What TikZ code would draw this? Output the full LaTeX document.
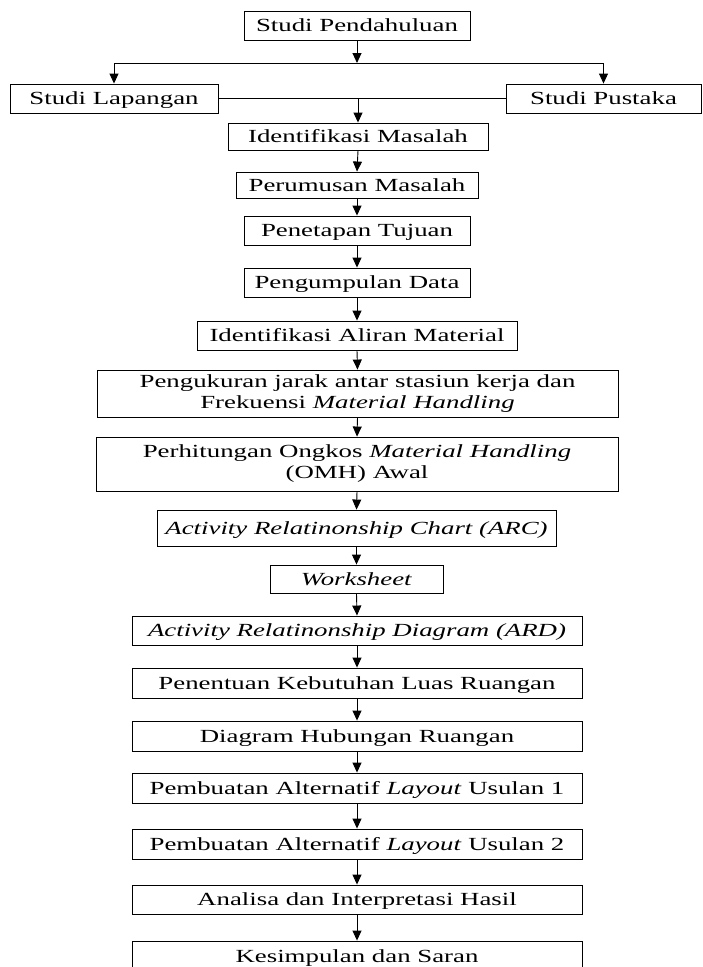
\documentclass[tikz,border=0pt]{standalone}
\usepackage{fontspec}
\setmainfont{Liberation Serif}[FakeStretch=1.45]
\usetikzlibrary{arrows.meta}

\begin{document}
\begin{tikzpicture}[x=1pt,y=-1pt,
  box/.style={draw, line width=0.9pt, inner sep=0pt, align=center,
    font=\fontsize{18.5}{21}\selectfont},
  onebox/.style={box, text height=12.3pt, text depth=0pt},
  flow/.style={line width=0.9pt, -{Triangle[length=10pt,width=9pt]}},
  plain/.style={line width=0.9pt}]
\useasboundingbox (0,0) rectangle (702,967);

% process boxes, centred on the main axis
\node[onebox, minimum width=226, minimum height=29] (pend) at (357,25.5) {Studi Pendahuluan};
\node[onebox, minimum width=208, minimum height=29] (lap)  at (114,98.5) {Studi Lapangan};
\node[onebox, minimum width=195, minimum height=29] (pus)  at (603.5,98.5) {Studi Pustaka};
\node[onebox, minimum width=260, minimum height=27] (idm)  at (358,136.5) {Identifikasi Masalah};
\node[onebox, minimum width=242, minimum height=26] (rum)  at (357,185) {Perumusan Masalah};
\node[onebox, minimum width=226, minimum height=29] (tuj)  at (357,230.5) {Penetapan Tujuan};
\node[onebox, minimum width=226, minimum height=29] (dat)  at (357,282.5) {Pengumpulan Data};
\node[onebox, minimum width=320, minimum height=29] (ali)  at (357,335.5) {Identifikasi Aliran Material};
\node[box, minimum width=521, minimum height=47] (ukur) at (357.5,393.5)
  {Pengukuran jarak antar stasiun kerja dan\\Frekuensi \textit{Material Handling}};
\node[box, minimum width=522, minimum height=54] (omh)  at (357,464)
  {Perhitungan Ongkos \textit{Material Handling}\\(OMH) Awal};
\node[onebox, minimum width=399, minimum height=36] (arc)  at (356.5,528) {\textit{Activity Relatinonship Chart (ARC)}};
\node[onebox, minimum width=173, minimum height=28] (ws)   at (356.5,579) {\textit{Worksheet}};
\node[onebox, minimum width=450, minimum height=29] (ard)  at (357,630.5) {\textit{Activity Relatinonship Diagram (ARD)}};
\node[onebox, minimum width=450, minimum height=30] (luas) at (357,683) {Penentuan Kebutuhan Luas Ruangan};
\node[onebox, minimum width=450, minimum height=30] (hub)  at (357,736) {Diagram Hubungan Ruangan};
\node[onebox, minimum width=450, minimum height=30] (lay1) at (357,788) {Pembuatan Alternatif \textit{Layout} Usulan 1};
\node[onebox, minimum width=450, minimum height=30] (lay2) at (357,844) {Pembuatan Alternatif \textit{Layout} Usulan 2};
\node[onebox, minimum width=450, minimum height=29] (ana)  at (357,899.5) {Analisa dan Interpretasi Hasil};
\node[onebox, minimum width=450, minimum height=30] (kes)  at (357,956) {Kesimpulan dan Saran};

% branching below the first step
\coordinate (split) at (357,63);
\coordinate (sl) at (lap.north |- split);
\coordinate (sr) at (pus.north |- split);
\draw[flow] (pend.south) -- (split);
\draw[plain] (sl) -- (sr);
\draw[flow] (sl) -- (lap.north);
\draw[flow] (sr) -- (pus.north);

% joining the two studies
\coordinate (join) at (358,98.5);
\draw[plain] (lap.east) -- (pus.west);
\draw[flow] (join) -- (idm.north);

% main sequence
\foreach \a/\b in {idm/rum, rum/tuj, tuj/dat, dat/ali, ali/ukur, ukur/omh,
                   omh/arc, arc/ws, ws/ard, ard/luas, luas/hub, hub/lay1,
                   lay1/lay2, lay2/ana, ana/kes}
  \draw[flow] (\a.south) -- (\b.north);
\end{tikzpicture}
\end{document}
